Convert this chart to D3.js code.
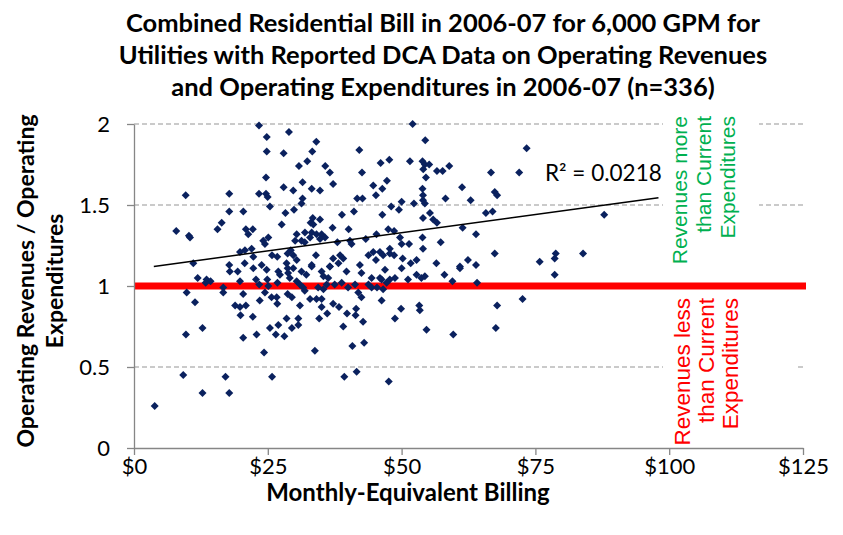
<!DOCTYPE html>
<html>
<head>
<meta charset="utf-8">
<script src="https://cdn.jsdelivr.net/npm/d3@7"></script>
<style>
  body { margin: 0; background: #fff; }
  svg { display: block; }
</style>
</head>
<body>
<svg id="chart"></svg>
<script>
// monthly-equivalent bill ($) and revenue/expenditure ratio
const billing = [
  23.35, 24.8, 24.8, 27.96, 28.95, 24.66, 27.96, 9.66, 17.8, 23.35, 24.66, 24.97, 25.4, 17.8, 20.42, 28.3,
  27.6, 16.38, 15.6, 7.9, 10.27, 10.46, 20.9, 22.2, 21.35, 24.15, 24.47, 25.09, 19.8, 20.73, 21.98, 22.29,
  25.78, 26.77, 28.7, 28.5, 11.08, 17.8, 20.68, 23.85,
  52.06, 34.06, 54.42, 33.3, 42.1, 30.82, 32.37, 35.74, 36.6, 46.08, 47.7, 51.56, 53.9, 54.35, 55.16, 54.04,
  54.55, 56.6, 42.6, 31.5, 37.2, 47.26, 44.7, 46.4, 29.76, 33.2, 34.75, 53.9, 54.0, 54.0, 54.35, 31.5,
  31.3, 41.7, 42.7, 45.2, 50.0, 52.3, 29.9, 48.05, 49.5, 41.1, 38.85, 46.4, 54.0, 55.3, 55.9, 56.6,
  33.4, 34.75, 33.0, 33.5, 37.1, 40.1, 30.4, 31.94, 33.2, 34.1, 35.06, 35.7, 34.75, 32.9, 30.1, 31.3,
  31.9, 47.5, 48.6, 45.3, 43.3, 40.35, 40.65, 38.0, 49.7, 50.0, 51.4, 53.9, 54.0, 47.8, 29.3, 29.76,
  30.4, 34.0, 37.2, 38.5, 39.1, 38.2, 43.8, 44.7, 45.95, 46.55, 47.8, 45.2, 48.6, 50.2, 51.7, 52.8,
  56.5, 33.2, 36.6, 42.2,
  73.36, 57.66, 58.9, 66.7, 71.97, 61.3, 67.4, 67.85, 58.2, 62.9, 65.75, 67.0, 61.4, 63.9, 57.3, 67.4,
  62.4, 63.9, 60.9, 75.8, 78.8, 78.6, 83.9, 87.85,
  17.9, 19.37, 22.29, 24.78, 26.96, 27.27, 28.7, 28.8, 11.9, 13.56, 14.3, 13.4, 19.8, 22.8, 23.4, 24.9,
  25.1, 26.8, 16.68, 16.68, 9.84, 11.4, 20.4, 24.47, 25.7, 26.66, 23.5, 28.7, 18.9, 19.8, 20.9, 19.9,
  26.77, 22.2, 28.5, 25.4, 26.96, 12.8, 9.71, 20.4, 22.9, 26.5, 28.1, 24.3, 9.2, 17.1, 25.8, 12.8,
  17.8, 3.86,
  29.76, 31.3, 32.2, 33.2, 35.06, 35.4, 36.3, 36.6, 39.7, 42.5, 44.4, 45.95, 46.9, 47.8, 48.75, 50.0,
  51.2, 52.8, 53.7, 54.35, 29.1, 30.4, 31.0, 31.6, 31.9, 29.5, 32.9, 34.1, 35.06, 35.4, 36.0, 34.4,
  37.5, 38.8, 40.0, 41.3, 41.9, 42.5, 43.8, 44.4, 45.4, 46.55, 47.2, 46.27, 31.0, 35.06, 37.2, 38.3,
  36.1, 34.6, 30.7, 30.7, 29.5, 39.8, 41.5, 41.4, 42.8, 39.1, 46.27, 49.9, 48.75, 53.3, 53.4, 54.65,
  33.8, 40.8, 43.0, 39.3, 41.6, 47.6,
  58.0, 60.9, 59.5, 64.1, 78.6, 72.6, 67.85, 67.6, 59.65
];
const ratio = [
  1.99, 1.92, 1.83, 1.82, 1.95, 1.67, 1.61, 1.56, 1.57, 1.57, 1.57, 1.55, 1.49, 1.46, 1.46, 1.45,
  1.38, 1.39, 1.35, 1.34, 1.31, 1.30, 1.35, 1.35, 1.32, 1.28, 1.26, 1.30, 1.21, 1.22, 1.23, 1.18,
  1.19, 1.18, 1.20, 1.14, 1.14, 1.13, 1.14, 1.13,
  2.00, 1.89, 1.90, 1.83, 1.84, 1.74, 1.77, 1.74, 1.70, 1.76, 1.78, 1.77, 1.77, 1.75, 1.75, 1.72,
  1.67, 1.71, 1.70, 1.64, 1.63, 1.65, 1.62, 1.60, 1.59, 1.60, 1.59, 1.60, 1.56, 1.53, 1.51, 1.54,
  1.51, 1.54, 1.54, 1.56, 1.52, 1.51, 1.47, 1.49, 1.47, 1.46, 1.44, 1.44, 1.42, 1.45, 1.41, 1.39,
  1.42, 1.41, 1.39, 1.38, 1.36, 1.35, 1.32, 1.33, 1.33, 1.32, 1.32, 1.30, 1.29, 1.30, 1.28, 1.28,
  1.27, 1.35, 1.34, 1.32, 1.29, 1.28, 1.26, 1.27, 1.30, 1.26, 1.26, 1.30, 1.23, 1.23, 1.22, 1.19,
  1.16, 1.19, 1.17, 1.19, 1.17, 1.14, 1.19, 1.21, 1.21, 1.19, 1.20, 1.16, 1.19, 1.17, 1.14, 1.16,
  1.14, 1.13, 1.12, 1.13,
  1.85, 1.71, 1.74, 1.70, 1.70, 1.61, 1.58, 1.56, 1.54, 1.53, 1.45, 1.46, 1.36, 1.32, 1.27, 1.20,
  1.16, 1.13, 1.12, 1.15, 1.20, 1.17, 1.20, 1.44,
  1.09, 1.09, 1.11, 1.10, 1.09, 1.07, 1.11, 1.08, 1.05, 1.04, 1.03, 1.02, 1.03, 1.04, 1.01, 1.04,
  1.00, 1.02, 0.99, 0.96, 0.96, 0.90, 0.95, 0.96, 0.93, 0.93, 0.91, 0.95, 0.88, 0.87, 0.88, 0.82,
  0.89, 0.81, 0.80, 0.74, 0.76, 0.74, 0.70, 0.68, 0.70, 0.70, 0.69, 0.59, 0.45, 0.44, 0.44, 0.34,
  0.34, 0.26,
  1.11, 1.09, 1.07, 1.12, 1.09, 1.06, 1.05, 1.12, 1.09, 1.08, 1.05, 1.05, 1.10, 1.04, 1.05, 1.11,
  1.04, 1.07, 1.05, 1.06, 1.05, 1.03, 1.01, 0.99, 0.97, 0.93, 0.92, 0.92, 0.92, 0.98, 1.01, 0.99,
  1.01, 1.02, 0.99, 1.01, 0.96, 0.93, 1.01, 0.99, 0.99, 0.98, 1.02, 1.04, 0.88, 0.87, 0.89, 0.87,
  0.83, 0.80, 0.80, 0.76, 0.74, 0.83, 0.86, 0.82, 0.78, 0.75, 0.91, 0.86, 0.80, 0.88, 0.85, 0.73,
  0.60, 0.63, 0.65, 0.44, 0.47, 0.41,
  1.07, 1.11, 1.03, 1.02, 1.07, 0.92, 0.88, 0.74, 0.70
];

const xTicks = [0, 25, 50, 75, 100, 125];
const xTickLabels = ["$0", "$25", "$50", "$75", "$100", "$125"];
const yTicks = [0, 0.5, 1, 1.5, 2];
const yTickLabels = ["0", "0.5", "1", "1.5", "2"];
const gridValues = [0.5, 1.5, 2];
const breakEven = 1;

// linear trendline as shown on the chart
const trendSlope = 0.0045;
const trendIntercept = 1.104;
const trendRange = [3.7, 98];
const r2Label = "R² = 0.0218";

const titleLines = [
  "Combined Residential Bill in 2006-07 for 6,000 GPM for",
  "Utilities with Reported DCA Data on Operating Revenues",
  "and Operating Expenditures in 2006-07 (n=336)"
];
const yTitleLines = ["Operating Revenues / Operating", "Expenditures"];
const xTitle = "Monthly-Equivalent Billing";
const aboveLines = ["Revenues more", "than Current", "Expenditures"];
const belowLines = ["Revenues less", "than Current", "Expenditures"];

const width = 843;
const height = 535;
const plot = { left: 134, right: 803, top: 124, bottom: 448 };

const svg = d3.select("#chart").attr("width", width).attr("height", height);

const x = d3.scaleLinear().domain([0, 125]).range([plot.left, plot.right]);
const y = d3.scaleLinear().domain([0, 2]).range([plot.bottom, plot.top]);

const calibri = "Lato, 'Open Sans', sans-serif";
const arial = "'Liberation Sans', Arial, sans-serif";

// gridlines
svg.append("g")
  .selectAll("line")
  .data(gridValues)
  .join("line")
  .attr("x1", plot.left)
  .attr("x2", plot.right)
  .attr("y1", (d) => y(d))
  .attr("y2", (d) => y(d))
  .attr("stroke", "#959595")
  .attr("stroke-width", 1.2)
  .attr("stroke-dasharray", "5,3");

// white boxes behind the annotation text (they hide the gridlines)
svg.append("rect").attr("x", 663).attr("y", 108).attr("width", 96).attr("height", 158).attr("fill", "#fff");
svg.append("rect").attr("x", 663).attr("y", 292).attr("width", 134).attr("height", 160).attr("fill", "#fff");

// annotations
function rotatedBlock(lines, color, size, baseX, topY, step) {
  const g = svg.append("g");
  lines.forEach((line, i) => {
    g.append("text")
      .attr("transform", `translate(${baseX + i * step},${topY}) rotate(-90)`)
      .attr("text-anchor", "end")
      .attr("font-family", arial)
      .attr("font-size", size)
      .attr("fill", color)
      .text(line);
  });
}
rotatedBlock(aboveLines, "#00b050", 21, 686.5, 116, 24.3);
rotatedBlock(belowLines, "#ff0000", 22.5, 690, 298, 24);

// break-even line
svg.append("line")
  .attr("x1", x(0))
  .attr("x2", x(125) + 3)
  .attr("y1", y(breakEven))
  .attr("y2", y(breakEven))
  .attr("stroke", "#ff0000")
  .attr("stroke-width", 7);

// points
const points = billing.map((b, i) => ({ b, r: ratio[i] }));
const diamond = d3.symbol().type(d3.symbolSquare).size(32);
svg.append("g")
  .selectAll("path")
  .data(points)
  .join("path")
  .attr("d", diamond)
  .attr("transform", (d) => `translate(${x(d.b)},${y(d.r)}) rotate(45)`)
  .attr("fill", "#0a215e");

// trendline
svg.append("line")
  .attr("x1", x(trendRange[0]))
  .attr("x2", x(trendRange[1]))
  .attr("y1", y(trendIntercept + trendSlope * trendRange[0]))
  .attr("y2", y(trendIntercept + trendSlope * trendRange[1]))
  .attr("stroke", "#000")
  .attr("stroke-width", 1.5);

svg.append("text")
  .attr("x", 545)
  .attr("y", 181)
  .attr("font-family", calibri)
  .attr("font-size", 22.5)
  .attr("fill", "#000")
  .text(r2Label);

// axes
const xAxis = svg.append("g")
  .attr("transform", `translate(0,${plot.bottom})`)
  .call(d3.axisBottom(x).tickValues(xTicks).tickFormat((d, i) => xTickLabels[i]).tickSize(7).tickSizeOuter(0).tickPadding(3));
const yAxis = svg.append("g")
  .attr("transform", `translate(${plot.left},0)`)
  .call(d3.axisLeft(y).tickValues(yTicks).tickFormat((d, i) => yTickLabels[i]).tickSize(7).tickSizeOuter(0).tickPadding(17));

[xAxis, yAxis].forEach((ax) => {
  ax.select(".domain").attr("stroke", "#868686").attr("stroke-width", 1.3);
  ax.selectAll(".tick line").attr("stroke", "#868686").attr("stroke-width", 1.3);
  ax.selectAll(".tick text")
    .attr("font-family", calibri)
    .attr("font-size", 22)
    .attr("fill", "#000");
});

// titles
svg.append("g")
  .selectAll("text")
  .data(titleLines)
  .join("text")
  .attr("x", 443)
  .attr("y", (d, i) => 32 + i * 32)
  .attr("text-anchor", "middle")
  .attr("font-family", calibri)
  .attr("font-weight", "bold")
  .attr("font-size", 25.5)
  .text((d) => d);

svg.append("g")
  .selectAll("text")
  .data(yTitleLines)
  .join("text")
  .attr("transform", (d, i) => `translate(${34 + i * 28.5},281) rotate(-90)`)
  .attr("text-anchor", "middle")
  .attr("font-family", calibri)
  .attr("font-weight", "bold")
  .attr("font-size", 23)
  .text((d) => d);

svg.append("text")
  .attr("x", 408)
  .attr("y", 501)
  .attr("text-anchor", "middle")
  .attr("font-family", calibri)
  .attr("font-weight", "bold")
  .attr("font-size", 24)
  .text(xTitle);
</script>
</body>
</html>
